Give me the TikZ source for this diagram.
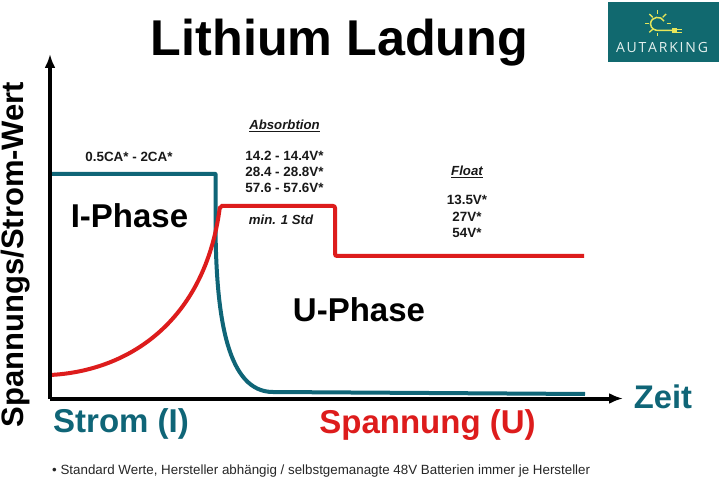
\documentclass[tikz,border=0pt]{standalone}
\usepackage{fontspec}
\setmainfont{Liberation Sans}
\newfontfamily\logofont{Open Sans}
\definecolor{tealc}{HTML}{0F6577}
\definecolor{redc}{HTML}{DD1C1C}
\definecolor{logobg}{HTML}{11696F}
\definecolor{logoy}{HTML}{E6E65A}
\definecolor{logot}{HTML}{E4F0EE}
\usetikzlibrary{arrows.meta}
\tikzset{
  lbl/.style={font=\bfseries\fontsize{13.4}{16.2}\selectfont,align=center,inner sep=0pt,text=black!90},
  lblit/.style={font=\bfseries\itshape\fontsize{13.2}{16}\selectfont,align=center,inner sep=0pt,text=black!90},
  phase/.style={font=\bfseries\fontsize{33}{38}\selectfont,inner sep=0pt},
  axis/.style={draw=black,line width=4pt,-{Latex[length=14pt,width=11pt]}},
  stromline/.style={draw=tealc,line width=4pt,line join=round},
  spannline/.style={draw=redc,line width=4pt,rounded corners=2pt},
  ray/.style={draw=logoy,line width=1.3pt},
}
\begin{document}
\begin{tikzpicture}[x=1pt,y=-1pt]
\useasboundingbox (0,0) rectangle (720,478);
\fill[white] (0,0) rectangle (720,478);
% title
\node[inner sep=0pt,font=\bfseries\fontsize{50.3}{58}\selectfont] (title) at (339.5,43) {Lithium Ladung};
% logo
\fill[logobg] (608,2.5) rectangle (718.5,62);
\draw[logoy,line width=1.5pt] (664,21) .. controls (661,15.5) and (651,16) .. (650.5,24) .. controls (651,29) and (655,30.5) .. (659,30.5) -- (672,30.5);
\fill[logoy] (671.7,28.3) rectangle (677.3,33.3);
\draw[logoy,line width=1pt] (677,29.3) -- (681.7,29.3) (677,32.3) -- (681.7,32.3);
\draw[ray] (657.7,10) -- (657.7,14);
\draw[ray] (649.3,14) -- (652.7,17.3);
\draw[ray] (666.1,14) -- (662.7,17.3);
\draw[ray] (645,23.5) -- (649.3,23.5);
\draw[ray] (666.7,23.5) -- (670.7,23.5);
\draw[ray] (649.3,32.3) -- (652.7,29.3);
\draw[ray] (657.7,33) -- (657.7,36);
\node[inner sep=0pt,text=logot,font=\logofont\fontsize{14}{16}\selectfont] (logo) at (662,48) {A\kern1.8pt U\kern1.8pt T\kern1.8pt A\kern1.8pt R\kern1.8pt K\kern1.8pt I\kern1.8pt N\kern1.8pt G};
% axes
\coordinate (origin) at (50,398.5);
\coordinate (ytop) at (50,54);
\coordinate (xend) at (623,398.5);
% curves
\coordinate (s0) at (50,174);
\coordinate (s1) at (215.5,174);
\coordinate (s2) at (273,392);
\coordinate (s3) at (585,394);
\draw[stromline] (s0) -- (s1) -- (215.5,225) .. controls (216,320) and (228,392) .. (s2) -- (s3);
\coordinate (u0) at (50,375);
\coordinate (u1) at (220,206);
\coordinate (u2) at (335,206);
\coordinate (u3) at (335,256);
\coordinate (u4) at (584,256);
\draw[spannline] (u0) .. controls (130,371) and (205,320) .. (u1) -- (u2) -- (u3) -- (u4);
\draw[axis] (origin) -- (ytop);
\draw[axis] (origin) -- (xend);
% labels
\node[lbl] (ca) at (129,156.5) {0.5CA* - 2CA*};
\node[lblit] (abs) at (284.5,125.5) {\underline{Absorbtion}};
\node[lbl] (absv) at (284.5,172) {14.2 - 14.4V*\\28.4 - 28.8V*\\57.6 - 57.6V*};
\node[lblit] (min) at (281,220) {min. 1 Std};
\node[lblit] (flo) at (467,171.5) {\underline{Float}};
\node[lbl] (flov) at (467,216.5) {13.5V*\\27V*\\54V*};
\node[phase] (iph) at (129.5,216) {I-Phase};
\node[phase] (uph) at (359,310) {U-Phase};
\node[inner sep=0pt,rotate=90,font=\bfseries\fontsize{31}{36}\selectfont] (ylab) at (16,254.5) {Spannungs/Strom-Wert};
\node[inner sep=0pt,text=tealc,font=\bfseries\fontsize{33}{38}\selectfont] (strom) at (121,424) {Strom (I)};
\node[inner sep=0pt,text=redc,font=\bfseries\fontsize{33}{38}\selectfont] (spann) at (427.5,425) {Spannung (U)};
\node[inner sep=0pt,text=tealc,font=\bfseries\fontsize{32.7}{38}\selectfont] (zeit) at (663,397) {Zeit};
\node[inner sep=0pt,anchor=west,font=\fontsize{13.35}{15}\selectfont,text=black!85] (foot) at (52,471) {• Standard Werte, Hersteller abhängig / selbstgemanagte 48V Batterien immer je Hersteller};
\end{tikzpicture}
\end{document}
